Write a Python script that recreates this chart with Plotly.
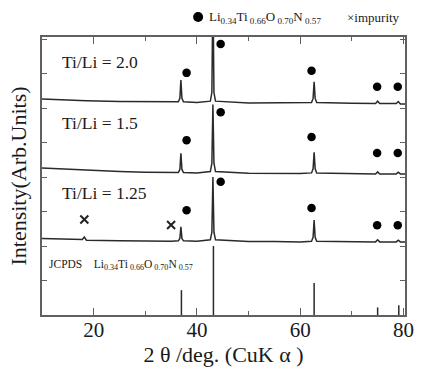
import plotly.graph_objects as go

# ---- data ----
two_theta = [10.0, 15.0, 17.8, 18.2, 18.6, 25.0, 30.0, 35.0, 36.4, 36.7, 36.9, 37.1, 37.4, 40.0,
             42.6, 42.9, 43.1, 43.3, 43.6, 50.0, 55.0, 60.0, 62.2, 62.5, 62.7, 62.9, 63.2, 70.0,
             74.6, 75.0, 75.4, 78.6, 79.0, 79.4, 80.3]

int_20 = [6.26, 6.23, 6.21, 6.21, 6.21, 6.19, 6.18, 6.17, 6.18, 6.28, 6.81, 6.28, 6.18, 6.16,
          6.20, 6.45, 9.50, 6.45, 6.20, 6.15, 6.15, 6.14, 6.16, 6.28, 6.76, 6.28, 6.16, 6.14,
          6.13, 6.20, 6.13, 6.13, 6.19, 6.12, 6.12]

int_15 = [4.26, 4.22, 4.20, 4.20, 4.19, 4.16, 4.14, 4.12, 4.13, 4.22, 4.69, 4.22, 4.13, 4.12,
          4.16, 4.40, 6.10, 4.40, 4.16, 4.11, 4.10, 4.10, 4.12, 4.24, 4.72, 4.24, 4.12, 4.10,
          4.09, 4.15, 4.09, 4.09, 4.14, 4.09, 4.09]

int_125 = [2.22, 2.20, 2.19, 2.26, 2.17, 2.15, 2.14, 2.14, 2.15, 2.22, 2.56, 2.22, 2.15, 2.14,
           2.18, 2.40, 4.00, 2.40, 2.18, 2.13, 2.13, 2.12, 2.14, 2.25, 2.75, 2.25, 2.14, 2.12,
           2.12, 2.18, 2.12, 2.12, 2.17, 2.12, 2.12]

jcpds_x = [37.0, 43.2, 62.7, 75.0, 79.1]
jcpds_h = [0.72, 2.00, 0.93, 0.22, 0.28]

dot_x = [38.0, 44.6, 62.2, 74.9, 78.9] * 3
dot_y = [7.02, 7.86, 7.08, 6.62, 6.62,
         5.07, 5.88, 5.16, 4.70, 4.70,
         3.04, 3.86, 3.10, 2.60, 2.60]

imp_x = [18.2, 35.0]
imp_y = [2.77, 2.61]

labels = ["Ti/Li = 2.0", "Ti/Li = 1.5", "Ti/Li = 1.25"]
label_y = [7.34, 5.57, 3.54]

x_ticks = [20, 40, 60, 80]
y_ticks = [0, 1, 2, 3, 4, 5, 6, 7, 8]

FONT = "Liberation Serif, Times New Roman, serif"
TXT = "#1a1a1a"
LINE = "#2a2a2a"
FRAME = "#606060"

fig = go.Figure()

for ys in (int_20, int_15, int_125):
    fig.add_trace(go.Scatter(x=two_theta, y=ys, mode="lines",
                             line=dict(color=LINE, width=1.5), hoverinfo="skip"))

sx, sy = [], []
for xv, hv in zip(jcpds_x, jcpds_h):
    sx += [xv, xv, None]
    sy += [0, hv, None]
fig.add_trace(go.Scatter(x=sx, y=sy, mode="lines", line=dict(color=LINE, width=1.5)))

fig.add_trace(go.Scatter(x=dot_x, y=dot_y, mode="markers",
                         marker=dict(symbol="circle", size=8.5, color="black")))
fig.add_trace(go.Scatter(x=imp_x, y=imp_y, mode="markers",
                         marker=dict(symbol="x-thin", size=8, color="black",
                                     line=dict(width=2, color="#222"))))

for t, yv in zip(labels, label_y):
    fig.add_annotation(x=13.5, y=yv, text=t, showarrow=False, xanchor="left", yanchor="middle",
                       font=dict(family=FONT, size=17.5, color=TXT))

formula = "Li<sub>0.34</sub>Ti<sub> 0.66</sub>O<sub> 0.70</sub>N<sub> 0.57</sub>"
fig.add_annotation(x=11.0, y=1.45, text="JCPDS" + "&nbsp;" * 4 + formula, showarrow=False,
                   xanchor="left", yanchor="middle", font=dict(family=FONT, size=11.5, color=TXT))

# top legend
fig.add_shape(type="circle", xref="paper", yref="paper", xsizemode="pixel", ysizemode="pixel",
              xanchor=(202 - 42) / 372, yanchor=(315 - 17) / 278, x0=-5, x1=5, y0=-5, y1=5,
              fillcolor="black", line=dict(width=0))
fig.add_annotation(xref="paper", yref="paper", x=(211 - 42) / 372, y=(315 - 18) / 278,
                   text=formula, showarrow=False, xanchor="left", yanchor="middle",
                   font=dict(family=FONT, size=13, color=TXT))
fig.add_annotation(xref="paper", yref="paper", x=(352 - 42) / 372, y=(315 - 17) / 278,
                   text="×impurity", showarrow=False, xanchor="left", yanchor="middle",
                   font=dict(family=FONT, size=13, color=TXT))

fig.update_layout(
    width=424, height=370, margin=dict(l=42, r=10, t=37, b=55),
    paper_bgcolor="white", plot_bgcolor="white", showlegend=False,
    font=dict(family=FONT, color=TXT),
)
fig.update_xaxes(range=[10, 80.3], tickvals=x_ticks, ticktext=[str(v) for v in x_ticks],
                 ticks="inside", ticklen=7, tickwidth=1.2, tickcolor=FRAME,
                 minor=dict(tickvals=[30, 50, 70], ticks="inside", ticklen=4, tickwidth=1.2,
                            tickcolor=FRAME),
                 showline=True, linecolor=FRAME, linewidth=1.5, mirror="ticks",
                 showgrid=False, zeroline=False, tickfont=dict(family=FONT, size=21, color=TXT),
                 ticklabelstandoff=-5,
                 title=dict(text="2 θ /deg. (CuK α )", font=dict(family=FONT, size=22, color=TXT),
                            standoff=2))
fig.update_yaxes(range=[0, 8.06], tickvals=y_ticks, showticklabels=False,
                 ticks="inside", ticklen=5, tickwidth=1.2, tickcolor=FRAME,
                 showline=True, linecolor=FRAME, linewidth=1.5, mirror="ticks",
                 showgrid=False, zeroline=False,
                 title=dict(text="Intensity(Arb.Units)", font=dict(family=FONT, size=22, color=TXT),
                            standoff=8))

fig.write_html("out.html")
